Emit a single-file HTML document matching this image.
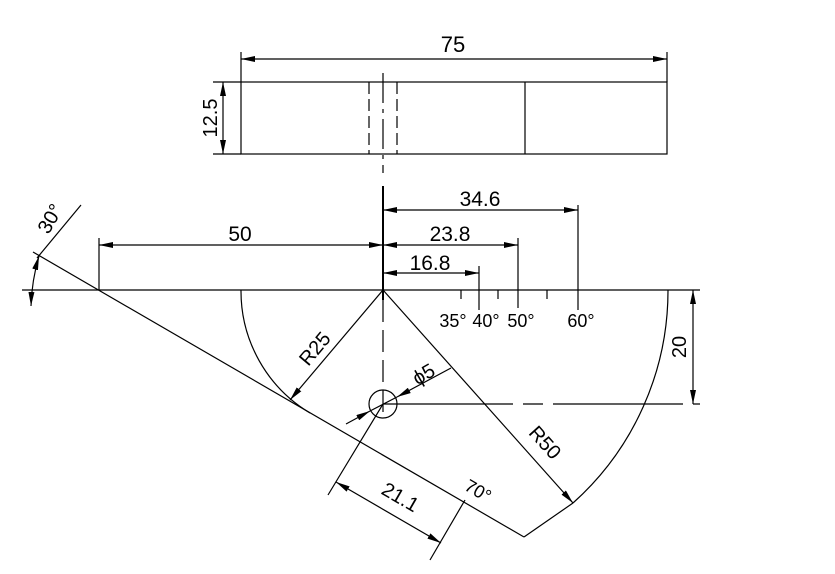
<!DOCTYPE html>
<html><head><meta charset="utf-8"><style>
html,body{margin:0;padding:0;background:#fff;}
svg{display:block;}
text{font-family:"Liberation Sans",sans-serif;fill:#000;}
</style></head><body>
<svg width="835" height="574" viewBox="0 0 835 574" xmlns="http://www.w3.org/2000/svg">
<defs>
<marker id="a" markerWidth="14" markerHeight="6" refX="14" refY="3" orient="auto" markerUnits="userSpaceOnUse">
<path d="M0,0 L14,3 L0,6 Z" fill="#000"/></marker>
<marker id="b" markerWidth="14" markerHeight="6" refX="0" refY="3" orient="auto" markerUnits="userSpaceOnUse">
<path d="M14,0 L0,3 L14,6 Z" fill="#000"/></marker>
</defs>
<g stroke="#000" stroke-width="1.2" fill="none">
<rect x="241" y="82" width="426" height="72"/>
<line x1="525" y1="82" x2="525" y2="154"/>
<line x1="369" y1="82" x2="369" y2="154" stroke-dasharray="12,5"/>
<line x1="397" y1="82" x2="397" y2="154" stroke-dasharray="12,5"/>
<line x1="383" y1="73" x2="383" y2="173" stroke-dasharray="30,6,4,6"/>
<line x1="241" y1="52" x2="241" y2="82"/>
<line x1="667" y1="52" x2="667" y2="82"/>
<line x1="241" y1="59" x2="667" y2="59" marker-start="url(#b)" marker-end="url(#a)"/>
<line x1="213" y1="82" x2="241" y2="82"/>
<line x1="213" y1="154" x2="241" y2="154"/>
<line x1="223" y1="82" x2="223" y2="154" marker-start="url(#b)" marker-end="url(#a)"/>
<line x1="22" y1="290" x2="700" y2="290"/>
<line x1="383" y1="186" x2="383" y2="300" stroke-width="2"/>
<line x1="383" y1="300" x2="383" y2="420" stroke-dasharray="22,8"/>
<line x1="383" y1="404" x2="700" y2="404" stroke-dasharray="130,10,20,10"/>
<path d="M241,290 A142,142 0 0 0 310,413"/>
<path d="M668,290 A285,285 0 0 1 573,503"/>
<line x1="33" y1="252" x2="524" y2="537"/>
<line x1="524" y1="537" x2="573" y2="503"/>
<line x1="383" y1="290" x2="290" y2="400" marker-end="url(#a)"/>
<line x1="383" y1="290" x2="573" y2="503" marker-end="url(#a)"/>
<circle cx="383" cy="404" r="14"/>
<line x1="451" y1="368" x2="397" y2="397" marker-end="url(#a)"/>
<line x1="346" y1="424" x2="370" y2="411" marker-end="url(#a)"/>
<line x1="370" y1="411" x2="397" y2="397"/>
<line x1="578" y1="205" x2="578" y2="290"/>
<line x1="518" y1="238" x2="518" y2="290"/>
<line x1="479" y1="266" x2="479" y2="290"/>
<line x1="383" y1="210" x2="578" y2="210" marker-start="url(#b)" marker-end="url(#a)"/>
<line x1="383" y1="245" x2="518" y2="245" marker-start="url(#b)" marker-end="url(#a)"/>
<line x1="383" y1="273" x2="479" y2="273" marker-start="url(#b)" marker-end="url(#a)"/>
<line x1="99" y1="238" x2="99" y2="290"/>
<line x1="99" y1="245" x2="383" y2="245" marker-start="url(#b)" marker-end="url(#a)"/>
<line x1="461" y1="290" x2="461" y2="299"/>
<line x1="498" y1="290" x2="498" y2="299"/>
<line x1="547" y1="290" x2="547" y2="299"/>
<line x1="479" y1="290" x2="479" y2="310"/>
<line x1="518" y1="290" x2="518" y2="308"/>
<line x1="578" y1="290" x2="578" y2="310"/>
<line x1="693" y1="290" x2="693" y2="404" marker-start="url(#b)" marker-end="url(#a)"/>
<line x1="37" y1="258" x2="81" y2="205"/>
<path d="M31,306 A200,200 0 0 1 39,256" marker-start="url(#b)" marker-end="url(#a)"/>
<line x1="383" y1="404" x2="328" y2="495"/>
<line x1="465" y1="500" x2="430" y2="560"/>
<line x1="336" y1="482" x2="441" y2="543" marker-start="url(#b)" marker-end="url(#a)"/>
</g>
<g font-size="21">
<text x="453" y="52" text-anchor="middle" font-size="22">75</text>
<text transform="translate(217,118) rotate(-90)" text-anchor="middle" font-size="20">12.5</text>
<text x="480" y="206" text-anchor="middle">34.6</text>
<text x="450" y="241" text-anchor="middle">23.8</text>
<text x="430" y="270" text-anchor="middle">16.8</text>
<text x="240" y="241" text-anchor="middle">50</text>
<text x="453" y="327" text-anchor="middle" font-size="18" font-family="Liberation Serif">35°</text>
<text x="486" y="327" text-anchor="middle" font-size="18" font-family="Liberation Serif">40°</text>
<text x="521" y="327" text-anchor="middle" font-size="18" font-family="Liberation Serif">50°</text>
<text x="581" y="327" text-anchor="middle" font-size="18" font-family="Liberation Serif">60°</text>
<text transform="translate(686,347) rotate(-90)" text-anchor="middle" font-size="20">20</text>
<text transform="translate(56,222) rotate(-60)" text-anchor="middle" font-size="20">30°</text>
<text transform="translate(320,353) rotate(-50)" text-anchor="middle" font-size="20">R25</text>
<text transform="translate(540,447) rotate(48)" text-anchor="middle" font-size="20">R50</text>
<text transform="translate(427,380) rotate(-30)" text-anchor="middle" font-size="20">ϕ5</text>
<text transform="translate(397,503) rotate(30)" text-anchor="middle" font-size="20">21.1</text>
<text transform="translate(475,496) rotate(30)" text-anchor="middle" font-size="18">70°</text>
</g>
</svg>
</body></html>
